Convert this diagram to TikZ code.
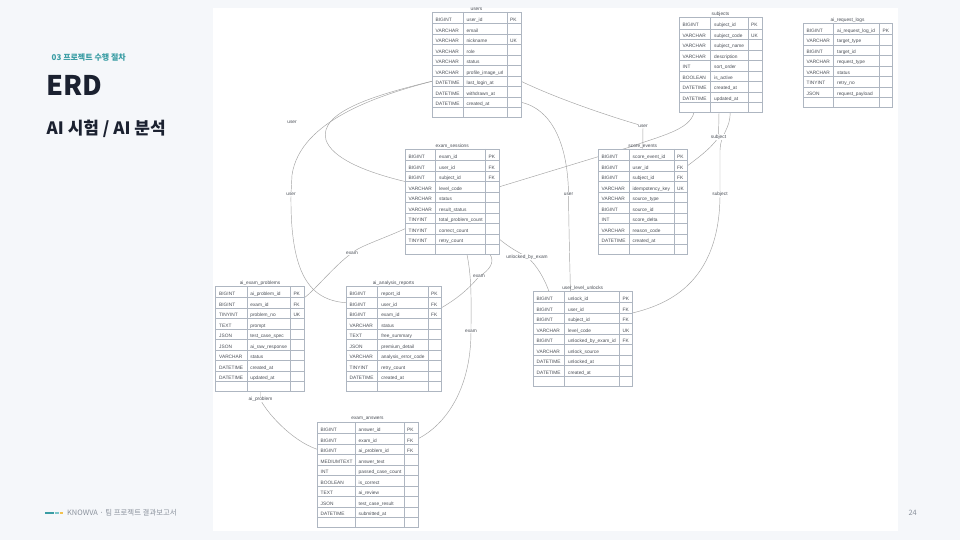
\documentclass[tikz,border=0pt]{standalone}
\usepackage{fontspec}
\setmainfont{Liberation Sans}
\newfontfamily\kr{Noto Sans CJK KR}
\usetikzlibrary{calc}
\pgfdeclarelayer{back}
\pgfdeclarelayer{links}
\pgfsetlayers{back,links,main}
\definecolor{pagebg}{HTML}{F5F7FA}
\definecolor{accentteal}{HTML}{3A9DA4}
\definecolor{titleink}{HTML}{1B2130}
\definecolor{tblline}{HTML}{AEB6C1}
\definecolor{tbltext}{HTML}{4A4F57}
\definecolor{linkc}{HTML}{A3A3A3}
\definecolor{footgray}{HTML}{8A919C}
\definecolor{footyellow}{HTML}{F2C14E}
\definecolor{footteal2}{HTML}{7CC7CB}
\tikzset{
 tablebox/.style={draw=tblline, fill=white, line width=0.5pt, anchor=north west, inner sep=0pt, outer sep=0pt},
 tblsep/.style={draw=tblline, line width=0.4pt},
 rowbox/.style={inner sep=0pt, outer sep=0pt, minimum height=10.5pt},
 cell/.style={anchor=base west, inner sep=0pt, text=tbltext, font=\fontsize{4.8}{5.5}\selectfont},
 tabletitle/.style={inner sep=0pt, text=tbltext, font=\fontsize{4.8}{5.5}\selectfont},
 relline/.style={draw=linkc, line width=0.45pt},
 elabel/.style={fill=white, inner sep=0.6pt, text=tbltext, font=\fontsize{4.8}{5.5}\selectfont},
}
% #1 id, #2 title, #3 L, #4 S1, #5 S2, #6 R, #7 F (first text y), #8 n, #9 rows
\newcommand\erdtable[9]{%
 \pgfmathsetmacro\tT{#7-8}%
 \pgfmathsetmacro\tB{#7+3.5+(#8-1)*10.5+10}%
 \pgfmathsetmacro\tW{#6-#3}%
 \pgfmathsetmacro\tH{\tB-\tT}%
 \pgfmathsetmacro\tC{(#3+#6)/2}%
 \node[tablebox, minimum width=\tW pt, minimum height=\tH pt] (#1) at (#3,\tT) {};
 \node[tabletitle] (#1-title) at (\tC,\tT-3) {#2};
 \draw[tblsep] (#4,\tT) -- (#4,\tB) (#5,\tT) -- (#5,\tB);
 \foreach \ty/\nm/\ky [count=\ri from 0] in {#9} {
   \pgfmathsetmacro\ry{#7+\ri*10.5}
   \draw[tblsep] (#3,\ry+3.5) -- (#6,\ry+3.5);
   \node[rowbox, minimum width=\tW pt] (#1-\ri) at (\tC,\ry-1.75) {};
   \node[cell] (#1-\ri-t) at (#3+3.5,\ry+1.7) {\ty};
   \node[cell] (#1-\ri-n) at (#4+3.5,\ry+1.7) {\nm};
   \node[cell] (#1-\ri-k) at (#5+3,\ry+1.7) {\ky};
 }
}
\begin{document}
\begin{tikzpicture}[x=1pt, y=-1pt]
\useasboundingbox (0,0) rectangle (960,540);
\begin{pgfonlayer}{back}
 \fill[pagebg] (0,0) rectangle (960,540);
 \fill[white] (213,8) rectangle (898,531);
\end{pgfonlayer}

% header
\node[anchor=base west, inner sep=0pt, text=accentteal, font=\kr\bfseries\fontsize{8}{9}\selectfont] (section) at (51.5,61) {03 프로젝트 수행 절차};
\node[anchor=base west, inner sep=0pt, text=titleink, font=\kr\bfseries\fontsize{27}{30}\selectfont] (erd) at (46,95.5) {ERD};
\node[anchor=base west, inner sep=0pt, text=titleink, font=\kr\bfseries\fontsize{17}{19}\selectfont] (subtitle) at (46.5,135) {AI 시험 / AI 분석};

% footer
\draw[accentteal, line width=2pt] (45,513) -- (53.5,513);
\draw[footteal2, line width=2pt] (54.5,513) -- (58.5,513);
\draw[footyellow, line width=2pt] (59.5,513) -- (62.5,513);
\node[anchor=base west, inner sep=0pt, text=footgray, font=\kr\fontsize{7.4}{8}\selectfont] (foot) at (67,515.7) {KNOWVA · 팀 프로젝트 결과보고서};
\node[anchor=base east, inner sep=0pt, text=footgray, font=\kr\fontsize{7.4}{8}\selectfont] (pageno) at (917,515.7) {24};

% tables
\erdtable{users}{users}{432}{463}{507}{521}{20}{9}{BIGINT/user\_id/PK, VARCHAR/email/{}, VARCHAR/nickname/UK, VARCHAR/role/{}, VARCHAR/status/{}, VARCHAR/profile\_image\_url/{}, DATETIME/last\_login\_at/{}, DATETIME/withdrawn\_at/{}, DATETIME/created\_at/{}}
\erdtable{subjects}{subjects}{679}{710.5}{748}{762}{25.3}{8}{BIGINT/subject\_id/PK, VARCHAR/subject\_code/UK, VARCHAR/subject\_name/{}, VARCHAR/description/{}, INT/sort\_order/{}, BOOLEAN/is\_active/{}, DATETIME/created\_at/{}, DATETIME/updated\_at/{}}
\erdtable{logs}{ai\_request\_logs}{803}{833.5}{879.5}{892}{30.8}{7}{BIGINT/ai\_request\_log\_id/PK, VARCHAR/target\_type/{}, BIGINT/target\_id/{}, VARCHAR/request\_type/{}, VARCHAR/status/{}, TINYINT/retry\_no/{}, JSON/request\_payload/{}}
\erdtable{sessions}{exam\_sessions}{405}{435.5}{485.5}{499.5}{157}{9}{BIGINT/exam\_id/PK, BIGINT/user\_id/FK, BIGINT/subject\_id/FK, VARCHAR/level\_code/{}, VARCHAR/status/{}, VARCHAR/result\_status/{}, TINYINT/total\_problem\_count/{}, TINYINT/correct\_count/{}, TINYINT/retry\_count/{}}
\erdtable{score}{score\_events}{598}{629}{674}{687.5}{157}{9}{BIGINT/score\_event\_id/PK, BIGINT/user\_id/FK, BIGINT/subject\_id/FK, VARCHAR/idempotency\_key/UK, VARCHAR/source\_type/{}, BIGINT/source\_id/{}, INT/score\_delta/{}, VARCHAR/reason\_code/{}, DATETIME/created\_at/{}}
\erdtable{problems}{ai\_exam\_problems}{215.5}{246.7}{290.3}{304.6}{294}{9}{BIGINT/ai\_problem\_id/PK, BIGINT/exam\_id/FK, TINYINT/problem\_no/UK, TEXT/prompt/{}, JSON/test\_case\_spec/{}, JSON/ai\_raw\_response/{}, VARCHAR/status/{}, DATETIME/created\_at/{}, DATETIME/updated\_at/{}}
\erdtable{reports}{ai\_analysis\_reports}{346}{377.6}{428}{441}{294}{9}{BIGINT/report\_id/PK, BIGINT/user\_id/FK, BIGINT/exam\_id/FK, VARCHAR/status/{}, TEXT/free\_summary/{}, JSON/premium\_detail/{}, VARCHAR/analysis\_error\_code/{}, TINYINT/retry\_count/{}, DATETIME/created\_at/{}}
\erdtable{unlocks}{user\_level\_unlocks}{533}{564.4}{619.5}{632.4}{299}{8}{BIGINT/unlock\_id/PK, BIGINT/user\_id/FK, BIGINT/subject\_id/FK, VARCHAR/level\_code/UK, BIGINT/unlocked\_by\_exam\_id/FK, VARCHAR/unlock\_source/{}, DATETIME/unlocked\_at/{}, DATETIME/created\_at/{}}
\erdtable{answers}{exam\_answers}{317}{355}{404}{418}{430}{9}{BIGINT/answer\_id/PK, BIGINT/exam\_id/FK, BIGINT/ai\_problem\_id/FK, MEDIUMTEXT/answer\_text/{}, INT/passed\_case\_count/{}, BOOLEAN/is\_correct/{}, TEXT/ai\_review/{}, JSON/test\_case\_result/{}, DATETIME/submitted\_at/{}}

% labels
\node[elabel] (lbl-user1) at (292,122) {user};
\node[elabel] (lbl-user2) at (291,194) {user};
\node[elabel] (lbl-user3) at (643,126) {user};
\node[elabel] (lbl-user4) at (568.5,194) {user};
\node[elabel] (lbl-subj1) at (718.5,137) {subject};
\node[elabel] (lbl-subj2) at (720,194) {subject};
\node[elabel] (lbl-exam1) at (352,253) {exam};
\node[elabel] (lbl-exam2) at (479,276.5) {exam};
\node[elabel] (lbl-exam3) at (471,331) {exam};
\node[elabel] (lbl-unlock) at (527,257) {unlocked\_by\_exam};
\node[elabel] (lbl-aiprob) at (260.5,399.5) {ai\_problem};

% connectors
\begin{pgfonlayer}{links}
 \draw[relline] (users-6.west) .. controls (380,95) and (300,120) .. (292,175) -- (lbl-user2.center)
   .. controls (290,275) and (310,300) .. (reports-1.west);
 \draw[relline] (users-6.west) .. controls (375,95) and (318,112) .. (326,140)
   .. controls (332,158) and (365,172) .. (sessions-2.south west);
 \draw[relline] (users-6.east) .. controls (560,100) and (615,118) .. (lbl-user3.center) -- (score.north);
 \draw[relline] (users-8.east) .. controls (555,110) and (568,150) .. (lbl-user4.center)
   .. controls (569,240) and (570,270) .. ($(unlocks.north west)+(37.4,0)$);
 \draw[relline] ($(subjects.south west)+(15,0)$) .. controls (690,130) and (660,136) .. (630,147) -- (sessions-3.east);
 \draw[relline] ($(subjects.south west)+(40,0)$) -- (lbl-subj1.center) .. controls (712,148) and (695,160) .. (score-1.east);
 \draw[relline] ($(subjects.south west)+(51,0)$) .. controls (731,128) and (720,135) .. (720,150) -- (lbl-subj2.center)
   .. controls (720,285) and (665,305) .. (unlocks-1.south east);
 \draw[relline] (sessions-7.west) .. controls (380,240) and (360,246) .. (lbl-exam1.center)
   .. controls (335,265) and (315,290) .. (problems-0.south east);
 \draw[relline] ($(sessions.south west)+(85,0)$) .. controls (495,262) and (490,270) .. (lbl-exam2.center)
   .. controls (468,290) and (455,300) .. (reports-1.south east);
 \draw[relline] ($(sessions.south west)+(62,0)$) .. controls (472,280) and (471,300) .. (lbl-exam3.center)
   .. controls (471,390) and (445,425) .. (answers-1.east);
 \draw[relline] (sessions-8.east) .. controls (510,248) and (518,252) .. (lbl-unlock.center)
   .. controls (537,265) and (545,280) .. ($(unlocks.north west)+(15.8,0)$);
 \draw[relline] ($(problems.south west)+(45,0)$) -- (lbl-aiprob.center)
   .. controls (265,410) and (290,440) .. (answers-2.west);
\end{pgfonlayer}
\end{tikzpicture}
\end{document}
